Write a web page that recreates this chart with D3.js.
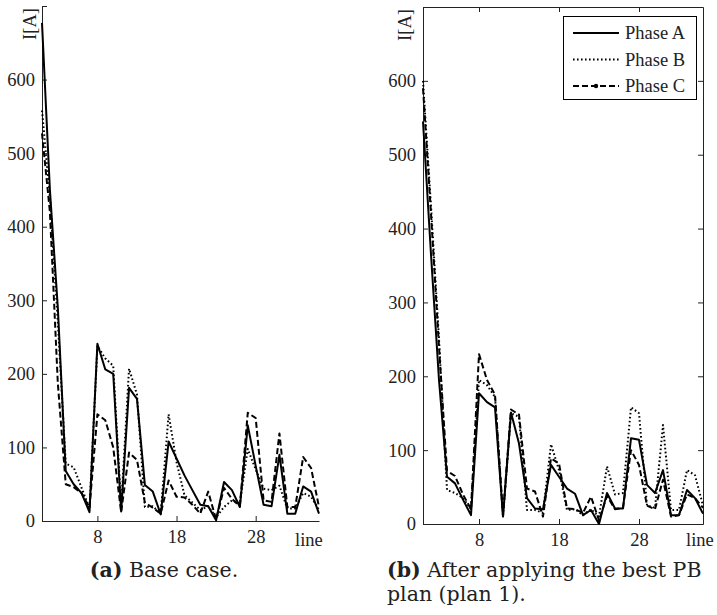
<!DOCTYPE html>
<html>
<head>
<meta charset="utf-8">
<script src="https://cdn.jsdelivr.net/npm/d3@7"></script>
<style>
body { margin: 0; background: #fff; }
text { font-family: "Liberation Serif", "Times New Roman", serif; fill: #222; }
.caption { font-family: "DejaVu Serif", serif; }
</style>
</head>
<body>
<div id="chart"></div>
<script>
// line numbers on the x axis
const lineNo = d3.range(1, 37)

// (a) base case
const baseA = [677, 450, 290, 68, 50, 38, 12, 241, 206, 200, 13, 181, 166, 49, 40, 9, 108, 85, 62, 42, 22, 20, 1, 53, 42, 19, 130, 75, 22, 20, 90, 10, 10, 47, 40, 10]
const baseB = [558, 440, 270, 78, 73, 45, 17, 238, 221, 211, 20, 207, 172, 19, 20, 10, 145, 80, 35, 25, 15, 20, 5, 19, 28, 24, 98, 70, 44, 42, 48, 17, 17, 38, 33, 15]
const baseC = [527, 420, 187, 50, 46, 38, 18, 145, 137, 100, 12, 93, 83, 25, 18, 10, 55, 33, 32, 22, 10, 40, 2, 45, 30, 20, 147, 140, 28, 26, 119, 19, 19, 87, 72, 19]

// (b) after plan 1
const planA = [545, 365, 195, 64, 55, 33, 12, 177, 165, 158, 10, 151, 109, 35, 21, 20, 80, 64, 48, 41, 12, 19, 0, 42, 21, 21, 116, 114, 53, 42, 73, 12, 12, 46, 35, 14]
const planB = [600, 430, 250, 46, 42, 35, 20, 195, 188, 172, 10, 150, 145, 19, 19, 15, 108, 73, 19, 20, 12, 20, 10, 78, 40, 42, 158, 150, 25, 22, 134, 19, 19, 73, 66, 25]
const planC = [590, 420, 240, 72, 65, 40, 20, 230, 195, 175, 12, 155, 148, 48, 44, 10, 89, 82, 21, 20, 15, 37, 5, 38, 20, 22, 100, 80, 25, 20, 60, 10, 12, 40, 35, 22]

const yTicks = [0, 100, 200, 300, 400, 500, 600, 700]
const xTicks = [8, 18, 28]
const phaseNames = ['Phase A', 'Phase B', 'Phase C']
const dashes = [null, '1.6,2.4', '6,3']

const w = 717
const h = 615

const svg = d3.select('#chart')
  .append('svg')
  .attr('width', w)
  .attr('height', h)

function drawPanel(p) {
  const xScale = d3.scaleLinear().domain([1, 36]).range([p.left, p.right])
  const yScale = d3.scaleLinear().domain([0, 700]).range([p.bottom, p.top])
  const g = svg.append('g')

  const yAxis = d3.axisLeft(yScale)
    .tickValues(yTicks)
    .tickSize(-5)
    .tickSizeOuter(0)
    .tickPadding(7)
    .tickFormat(d => d == 700 ? '' : d)
  const xAxis = d3.axisBottom(xScale)
    .tickValues(xTicks)
    .tickSize(-5)
    .tickSizeOuter(0)
    .tickPadding(9)

  g.append('g')
    .attr('transform', 'translate(' + p.left + ',0)')
    .call(yAxis)
    .attr('font-size', '18.5')
    .attr('font-family', null)
    .attr('color', '#222')

  g.append('g')
    .attr('transform', 'translate(0,' + p.bottom + ')')
    .call(xAxis)
    .attr('font-size', '18.5')
    .attr('font-family', null)
    .attr('color', '#222')

  if (p.box) {
    g.append('g')
      .attr('transform', 'translate(0,' + p.top + ')')
      .call(d3.axisTop(xScale).tickValues(xTicks).tickSize(-5).tickSizeOuter(0).tickFormat(''))
      .attr('color', '#222')
    g.append('g')
      .attr('transform', 'translate(' + p.right + ',0)')
      .call(d3.axisRight(yScale).tickValues(yTicks).tickSize(-5).tickSizeOuter(0).tickFormat(''))
      .attr('color', '#222')
  }

  const line = d3.line()
    .x((d, i) => xScale(lineNo[i]))
    .y(d => yScale(d))

  p.series.forEach((s, k) => {
    g.append('path')
      .datum(s)
      .attr('d', line)
      .attr('fill', 'none')
      .attr('stroke', '#000')
      .attr('stroke-width', 2)
      .attr('stroke-linejoin', 'round')
      .attr('stroke-dasharray', dashes[k])
  })

  // I[A] label where the 700 label would be
  g.append('text')
    .attr('transform', 'translate(' + p.ylabX + ',' + (p.top + 18) + ') rotate(-90)')
    .attr('text-anchor', 'middle')
    .attr('font-size', '18.5')
    .text('I[A]')

  g.append('text')
    .attr('x', p.lineX)
    .attr('y', 546)
    .attr('font-size', '18.5')
    .text('line')
}

drawPanel({ left: 42, right: 319, top: 6, bottom: 521, box: false, ylabX: 36, lineX: 295,
  series: [baseA, baseB, baseC] })
drawPanel({ left: 423, right: 703, top: 7, bottom: 524, box: true, ylabX: 411, lineX: 686,
  series: [planA, planB, planC] })

// legend
const legend = svg.append('g')
legend.append('rect')
  .attr('x', 563.5).attr('y', 16.5)
  .attr('width', 133).attr('height', 83)
  .attr('fill', '#fff')
  .attr('stroke', '#000')
  .attr('stroke-width', 1)

phaseNames.forEach((name, k) => {
  const ly = 33 + k * 26.5
  legend.append('line')
    .attr('x1', 573).attr('x2', 619)
    .attr('y1', ly).attr('y2', ly)
    .attr('stroke', '#000')
    .attr('stroke-width', 2)
    .attr('stroke-dasharray', dashes[k])
  if (k == 2) {
    legend.append('circle')
      .attr('cx', 596).attr('cy', ly).attr('r', 2.2)
      .attr('fill', '#000')
  }
  legend.append('text')
    .attr('x', 625).attr('y', ly + 6)
    .attr('font-size', '18.5')
    .text(name)
})

// captions
const capA = svg.append('text')
  .attr('class', 'caption')
  .attr('x', 164).attr('y', 577)
  .attr('text-anchor', 'middle')
  .attr('font-size', '20.5')
capA.append('tspan').attr('font-weight', 'bold').text('(a)')
capA.append('tspan').text(' Base case.')

const capB = svg.append('text')
  .attr('class', 'caption')
  .attr('x', 387).attr('y', 577)
  .attr('font-size', '20.5')
capB.append('tspan').attr('font-weight', 'bold').text('(b)')
capB.append('tspan').text(' After applying the best PB')
svg.append('text')
  .attr('class', 'caption')
  .attr('x', 387).attr('y', 601)
  .attr('font-size', '20.5')
  .text('plan (plan 1).')
</script>
</body>
</html>
